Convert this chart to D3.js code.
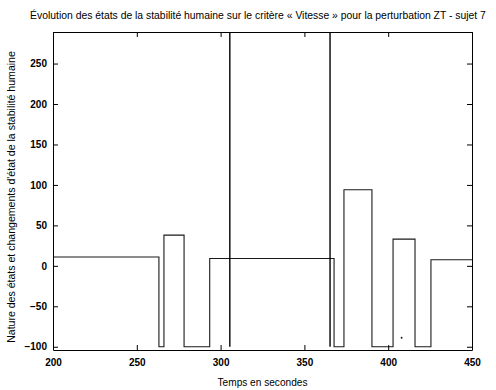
<!DOCTYPE html>
<html>
<head>
<meta charset="utf-8">
<script src="https://cdn.jsdelivr.net/npm/d3@7/dist/d3.min.js"></script>
<style>
  html, body { margin: 0; padding: 0; background: #fff; }
  svg { display: block; }
  text { font-family: "Liberation Sans", Arial, sans-serif; fill: #000; }
</style>
</head>
<body>
<svg id="chart" width="496" height="390"></svg>
<script>
// ---- Data ----
const titleText = "Évolution des états de la stabilité humaine sur le critère « Vitesse » pour la perturbation ZT - sujet 7";
const xLabel = "Temps en secondes";
const yLabel = "Nature des états et changements d'état de la stabilité humaine";

const xTicks = [200, 250, 300, 350, 400, 450];
const yTicks = [-100, -50, 0, 50, 100, 150, 200, 250];

// State step series: value held from stepTimes[i] to stepTimes[i+1]
const stepTimes  = [200, 263.2, 266.2, 278.2, 293.5, 367.7, 373.6, 390.3, 402.9, 416.0, 425.5, 450];
const stepValues = [11,  -100,  38,    -100,  9,     -100,  94,    -100,  33,    -100,  7.5,   7.5];

// State changes: vertical spikes from the bottom level to beyond the top
const changeTimes = [305.5, 365.3];
const changeLow = -100;
const changeHigh = 300;

// Stray isolated point
const strayTimes = [408];
const strayValues = [-89];

// ---- Layout ----
const svg = d3.select("#chart");
const margin = { left: 53, right: 24, top: 32, bottom: 40 };
const W = 496, H = 390;
const x = d3.scaleLinear().domain([200, 450]).range([margin.left, W - margin.right]);
const y = d3.scaleLinear().domain([-104, 289]).range([H - margin.bottom, margin.top]);

const clipId = "plotclip";
svg.append("clipPath").attr("id", clipId).append("rect")
  .attr("x", x.range()[0]).attr("y", y.range()[1])
  .attr("width", x.range()[1] - x.range()[0])
  .attr("height", y.range()[0] - y.range()[1]);

const plot = svg.append("g").attr("clip-path", `url(#${clipId})`);

// Step line
const stepData = stepTimes.map((t, i) => ({ t, v: stepValues[i] }));
const line = d3.line().x(d => x(d.t)).y(d => y(d.v)).curve(d3.curveStepAfter);
plot.append("path").datum(stepData)
  .attr("d", line)
  .attr("fill", "none").attr("stroke", "#1a1a1a").attr("stroke-width", 1.1);

// Change spikes
plot.selectAll("line.change").data(changeTimes).enter().append("line")
  .attr("class", "change")
  .attr("x1", d => x(d)).attr("x2", d => x(d))
  .attr("y1", y(changeLow)).attr("y2", y(changeHigh))
  .attr("stroke", "#000").attr("stroke-width", 1.4);

// Stray point
plot.selectAll("circle.stray").data(strayTimes).enter().append("circle")
  .attr("cx", d => x(d)).attr("cy", (d, i) => y(strayValues[i]))
  .attr("r", 1).attr("fill", "#222");

// ---- Axes (Matlab-like inward ticks on all sides) ----
const tickLen = 5;
const fontSize = 10;

const axB = svg.append("g").attr("transform", `translate(0,${y.range()[0]})`)
  .call(d3.axisBottom(x).tickValues(xTicks).tickSizeInner(-tickLen).tickSizeOuter(0).tickPadding(9).tickFormat(d3.format("d")));
const axL = svg.append("g").attr("transform", `translate(${x.range()[0]},0)`)
  .call(d3.axisLeft(y).tickValues(yTicks).tickSizeInner(-tickLen).tickSizeOuter(0).tickPadding(6).tickFormat(d3.format("d")));
const axT = svg.append("g").attr("transform", `translate(0,${y.range()[1]})`)
  .call(d3.axisTop(x).tickValues(xTicks).tickSizeInner(-tickLen).tickSizeOuter(0).tickFormat(""));
const axR = svg.append("g").attr("transform", `translate(${x.range()[1]},0)`)
  .call(d3.axisRight(y).tickValues(yTicks).tickSizeInner(-tickLen).tickSizeOuter(0).tickFormat(""));

[axB, axL, axT, axR].forEach(a => {
  a.select(".domain").attr("stroke", "#000").attr("stroke-width", 1);
  a.selectAll(".tick line").attr("stroke", "#000");
  a.selectAll(".tick text").attr("font-size", fontSize).attr("font-weight", "bold")
    .attr("font-family", "'Liberation Sans', Arial, sans-serif").attr("fill", "#000");
});

// Fit a text element's font size to a target width
function fitText(sel, target) {
  const node = sel.node();
  const fs = parseFloat(sel.attr("font-size"));
  const len = node.getComputedTextLength();
  if (len > 0) sel.attr("font-size", (fs * target / len).toFixed(2));
}

// ---- Titles ----
const title = svg.append("text")
  .attr("x", 258).attr("y", 19)
  .attr("text-anchor", "middle")
  .attr("font-size", 10)
  .text(titleText);
fitText(title, 456);

const xt = svg.append("text")
  .attr("x", (x.range()[0] + x.range()[1]) / 2).attr("y", 386)
  .attr("text-anchor", "middle")
  .attr("font-size", 10)
  .text(xLabel);
fitText(xt, 90);

const yt = svg.append("text")
  .attr("transform", `translate(15,197) rotate(-90)`)
  .attr("text-anchor", "middle")
  .attr("font-size", 10)
  .text(yLabel);
fitText(yt, 292);
</script>
</body>
</html>
